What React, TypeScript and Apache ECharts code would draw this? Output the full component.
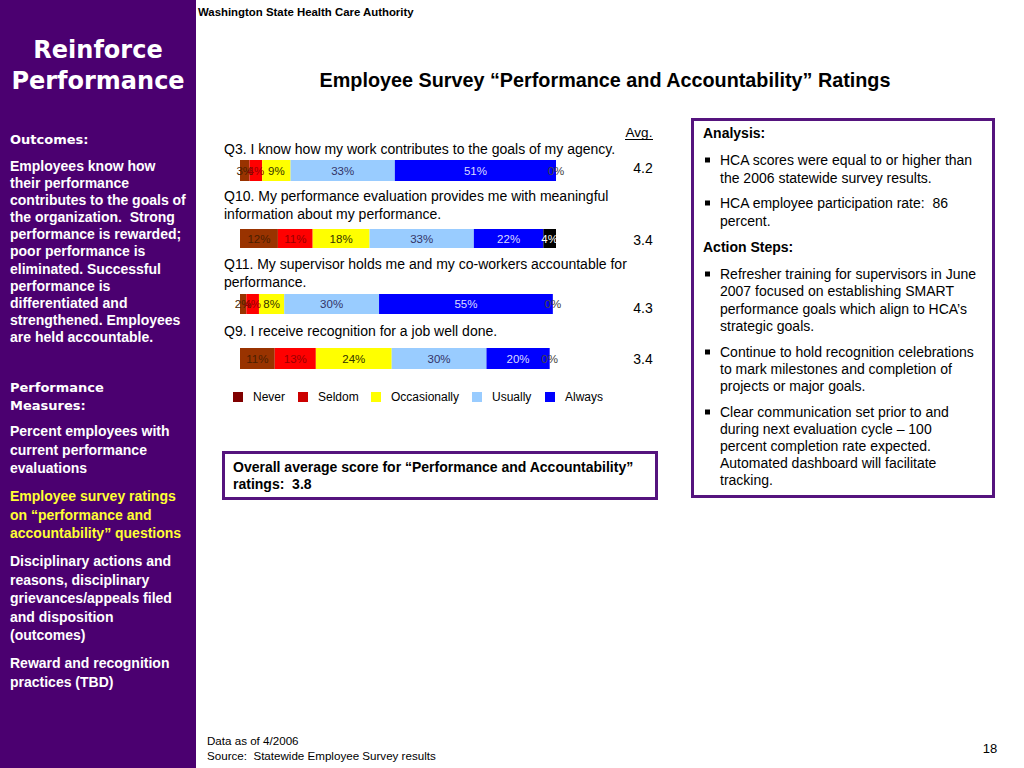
import React, { useEffect, useRef } from "react";
import * as echarts from "echarts";

// ---- Data ----
const questionIds = ["Q3", "Q10", "Q11", "Q9"];
const questionTexts = [
  "Q3. I know how my work contributes to the goals of my agency.",
  "Q10. My performance evaluation provides me with meaningful\ninformation about my performance.",
  "Q11. My supervisor holds me and my co-workers accountable for\nperformance.",
  "Q9. I receive recognition for a job well done.",
];
const categories = ["Never", "Seldom", "Occasionally", "Usually", "Always", "Don\u2019t Know"];
const never = [3, 12, 2, 11];
const seldom = [4, 11, 4, 13];
const occasionally = [9, 18, 8, 24];
const usually = [33, 33, 30, 30];
const always = [51, 22, 55, 20];
const dontKnow = [0, 4, 0, 0];
const averages = [4.2, 3.4, 4.3, 3.4];
const overallAverage = 3.8;

const seriesValues = [never, seldom, occasionally, usually, always, dontKnow];
const barColors = ["#993300", "#FF0000", "#FFFF00", "#99CCFF", "#0000FF", "#000000"];
const legendColors = ["#800000", "#CC0000", "#FFFF00", "#99CCFF", "#0000FF"];
const labelColors = ["#4a1f00", "#990000", "#333300", "#333366", "#dcdcff", "#ffffff"];

// layout
const gridTops = [160, 229, 294, 348];
const gridHeights = [21, 19, 20, 21];
const questionTextTops = [149, 196, 264, 331];
const avgYs = [168, 240, 308, 359];
const legendLefts = [233, 298, 371, 472, 545];

const PURPLE = "#4B0070";
const BORDER = "#55147E";
const SANS = "'Liberation Sans', Arial, sans-serif";
const WIDE = "'DejaVu Sans', Verdana, sans-serif";

function txt(x: number, y: number, text: string, style: any = {}) {
  return {
    type: "text",
    x,
    y,
    style: {
      text,
      fontFamily: SANS,
      fontSize: 14,
      fill: "#000",
      textAlign: "left",
      textVerticalAlign: "middle",
      ...style,
    },
  };
}

function para(x: number, firstCenter: number, lh: number, text: string, style: any = {}) {
  return {
    type: "text",
    x,
    y: firstCenter - lh / 2,
    style: {
      text,
      fontFamily: SANS,
      fontSize: 14,
      fill: "#000",
      lineHeight: lh,
      textAlign: "left",
      textVerticalAlign: "top",
      ...style,
    },
  };
}

function bullet(x: number, y: number) {
  return { type: "rect", shape: { x, y: y - 2.5, width: 5, height: 5 }, style: { fill: "#000" } };
}

export default function App() {
  const ref = useRef<HTMLDivElement>(null);
  useEffect(() => {
    document.body.style.margin = "0";
    if (!ref.current) return;
    const chart = echarts.init(ref.current, null, { renderer: "svg" });

    const grids = gridTops.map((t, i) => ({ left: 240, width: 316, top: t, height: gridHeights[i] }));
    const xAxes = gridTops.map((_, i) => ({ type: "value", gridIndex: i, min: 0, max: 100, show: false }));
    const yAxes = gridTops.map((_, i) => ({ type: "category", gridIndex: i, data: [questionIds[i]], show: false }));

    const series: any[] = [];
    questionIds.forEach((_, g) => {
      categories.forEach((cat, k) => {
        const v = seriesValues[k][g];
        series.push({
          type: "bar",
          name: cat,
          stack: "s" + g,
          xAxisIndex: g,
          yAxisIndex: g,
          barWidth: "100%",
          itemStyle: { color: barColors[k] },
          label: {
            show: true,
            position: "inside",
            formatter: "{c}%",
            fontFamily: SANS,
            fontSize: 11.5,
            color: k === 5 && v === 0 ? "#444" : labelColors[k],
          },
          data: [v],
        });
      });
    });

    const legends = legendLefts.map((l, i) => ({
      left: l,
      top: 391,
      padding: 0,
      itemWidth: 10,
      itemHeight: 10,
      icon: "rect",
      selectedMode: false,
      textStyle: { fontFamily: SANS, fontSize: 12, color: "#000", padding: [0, 0, 0, 5] },
      data: [{ name: categories[i], itemStyle: { color: legendColors[i] } }],
    }));

    const graphic: any[] = [
      // left panel
      { type: "rect", shape: { x: 0, y: 0, width: 196, height: 768 }, style: { fill: PURPLE } },
      {
        type: "text",
        x: 98,
        y: 50,
        style: { text: "Reinforce", fontFamily: WIDE, fontWeight: "bold", fontSize: 24, fill: "#fff", textAlign: "center", textVerticalAlign: "middle" },
      },
      {
        type: "text",
        x: 98,
        y: 81,
        style: { text: "Performance", fontFamily: WIDE, fontWeight: "bold", fontSize: 24, fill: "#fff", textAlign: "center", textVerticalAlign: "middle" },
      },
      txt(10, 139, "Outcomes:", { fontFamily: WIDE, fontWeight: "bold", fontSize: 13, fill: "#fff" }),
      para(
        10,
        166,
        17.1,
        "Employees know how\ntheir performance\ncontributes to the goals of\nthe organization.  Strong\nperformance is rewarded;\npoor performance is\neliminated. Successful\nperformance is\ndifferentiated and\nstrengthened. Employees\nare held accountable.",
        { fontWeight: "bold", fontSize: 14, fill: "#fff" }
      ),
      para(10, 387, 18, "Performance\nMeasures:", { fontFamily: WIDE, fontWeight: "bold", fontSize: 13, fill: "#fff" }),
      para(10, 431, 18.5, "Percent employees with\ncurrent performance\nevaluations", { fontWeight: "bold", fontSize: 14, fill: "#fff" }),
      para(10, 496, 18.5, "Employee survey ratings\non \u201cperformance and\naccountability\u201d questions", {
        fontWeight: "bold",
        fontSize: 14,
        fill: "#FFFF33",
      }),
      para(10, 561, 18.5, "Disciplinary actions and\nreasons, disciplinary\ngrievances/appeals filed\nand disposition\n(outcomes)", {
        fontWeight: "bold",
        fontSize: 14,
        fill: "#fff",
      }),
      para(10, 663, 18.5, "Reward and recognition\npractices (TBD)", { fontWeight: "bold", fontSize: 14, fill: "#fff" }),

      // header & title
      txt(198, 12, "Washington State Health Care Authority", { fontWeight: "bold", fontSize: 11.4 }),
      {
        type: "text",
        x: 605,
        y: 80,
        style: {
          text: "Employee Survey \u201cPerformance and Accountability\u201d Ratings",
          fontFamily: SANS,
          fontWeight: "bold",
          fontSize: 19.8,
          fill: "#000",
          textAlign: "center",
          textVerticalAlign: "middle",
        },
      },

      // Avg header
      { type: "text", x: 639, y: 132, style: { text: "Avg.", fontFamily: SANS, fontSize: 13.5, fill: "#000", textAlign: "center", textVerticalAlign: "middle" } },
      { type: "line", shape: { x1: 625, y1: 139.5, x2: 653, y2: 139.5 }, style: { stroke: "#000", lineWidth: 1 } },

      // footer
      txt(207, 740, "Data as of 4/2006", { fontSize: 11.6 }),
      txt(207, 755, "Source:  Statewide Employee Survey results", { fontSize: 11.6 }),
      { type: "text", x: 990, y: 748, style: { text: "18", fontFamily: SANS, fontSize: 13, fill: "#000", textAlign: "center", textVerticalAlign: "middle" } },

      // overall box
      { type: "rect", shape: { x: 223.5, y: 452.5, width: 433, height: 46 }, style: { fill: "#fff", stroke: BORDER, lineWidth: 3 } },
      para(233, 467, 17, "Overall average score for \u201cPerformance and Accountability\u201d\nratings:  " + overallAverage.toFixed(1), {
        fontWeight: "bold",
        fontSize: 14,
      }),

      // analysis box
      { type: "rect", shape: { x: 692.5, y: 119.5, width: 301, height: 377 }, style: { fill: "#fff", stroke: BORDER, lineWidth: 3 } },
      txt(703, 133, "Analysis:", { fontWeight: "bold" }),
      bullet(705, 160),
      para(720, 160, 17.5, "HCA scores were equal to or higher than\nthe 2006 statewide survey results."),
      bullet(705, 203),
      para(720, 203, 17.5, "HCA employee participation rate:  86\npercent."),
      txt(703, 247, "Action Steps:", { fontWeight: "bold" }),
      bullet(705, 274),
      para(720, 274, 17.3, "Refresher training for supervisors in June\n2007 focused on establishing SMART\nperformance goals which align to HCA\u2019s\nstrategic goals."),
      bullet(705, 352),
      para(720, 352, 17.2, "Continue to hold recognition celebrations\nto mark milestones and completion of\nprojects or major goals."),
      bullet(705, 412),
      para(
        720,
        412,
        17.1,
        "Clear communication set prior to and\nduring next evaluation cycle \u2013 100\npercent completion rate expected.\nAutomated dashboard will facilitate\ntracking."
      ),
    ];

    questionTexts.forEach((q, i) => {
      graphic.push(para(224, questionTextTops[i], 18, q));
    });
    averages.forEach((a, i) => {
      graphic.push({
        type: "text",
        x: 643,
        y: avgYs[i],
        style: { text: a.toFixed(1), fontFamily: SANS, fontSize: 14, fill: "#000", textAlign: "center", textVerticalAlign: "middle" },
      });
    });

    chart.setOption({
      animation: false,
      backgroundColor: "#fff",
      grid: grids,
      xAxis: xAxes,
      yAxis: yAxes,
      legend: legends,
      series,
      graphic: { elements: graphic },
    });
    return () => chart.dispose();
  }, []);
  return <div ref={ref} style={{ position: "absolute", left: 0, top: 0, width: 1024, height: 768 }} />;
}
